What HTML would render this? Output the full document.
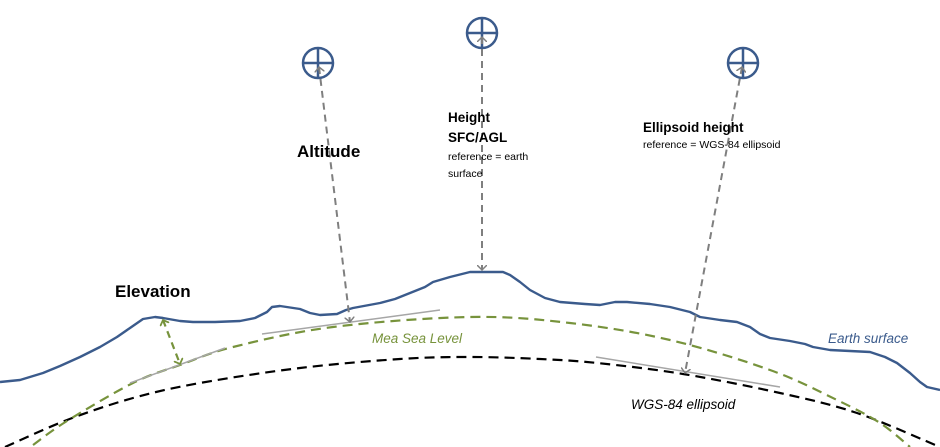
<!DOCTYPE html>
<html><head><meta charset="utf-8"><style>
html,body{margin:0;padding:0;background:#fff;}
svg{display:block;font-family:"Liberation Sans",sans-serif;}
</style></head><body>
<svg width="940" height="447" viewBox="0 0 940 447">
<defs>
<marker id="ag" markerWidth="10" markerHeight="10" refX="5" refY="5" orient="auto-start-reverse" markerUnits="userSpaceOnUse"><path d="M0,0 L5,5 L0,10" fill="none" stroke="#7f7f7f" stroke-width="1.5"/></marker>
<marker id="agr" markerWidth="10" markerHeight="10" refX="5" refY="5" orient="auto-start-reverse" markerUnits="userSpaceOnUse"><path d="M0,0 L5,5 L0,10" fill="none" stroke="#77933c" stroke-width="1.8"/></marker>
</defs>
<path id="ell" d="" fill="none" stroke="#000" stroke-width="2.2" stroke-dasharray="10,6"/>
<path id="msl" d="" fill="none" stroke="#77933c" stroke-width="2.2" stroke-dasharray="10,6"/>
<path d="M0,382 L20,380 L43,373 L60,366 L80,357 L100,347 L117,337 L130,328 L143,319 L155,317 L163,318 L180,321 L193,322 L215,322 L240,321 L255,318 L267,312 L272,307 L280,306 L300,309 L310,313 L320,315 L337,314 L346,310 L353,308 L380,303 L395,299 L410,293 L425,287 L433,282 L450,277 L470,272 L490,272 L503,272 L510,275 L520,282 L530,290 L545,298 L560,302 L585,304 L600,305 L615,302 L627,302 L650,304 L670,307 L690,312 L700,317 L720,320 L737,322 L750,327 L760,334 L770,338 L790,341 L805,344 L813,347 L830,350 L850,351 L870,352 L885,357 L897,363 L910,373 L920,382 L927,387 L940,390" fill="none" stroke="#3b5b8c" stroke-width="2.4" stroke-linejoin="round"/>
<line x1="130" y1="383" x2="225" y2="348" stroke="#a6a6a6" stroke-width="1.5"/>
<line x1="262" y1="334" x2="440" y2="310" stroke="#a6a6a6" stroke-width="1.5"/>
<line x1="596" y1="357" x2="780" y2="387" stroke="#a6a6a6" stroke-width="1.5"/>
<g fill="none" stroke="#3b5b8c" stroke-width="2.5"><circle cx="318" cy="63" r="15"/><line x1="303" y1="63" x2="333" y2="63"/><line x1="318" y1="48" x2="318" y2="78"/></g>
<g fill="none" stroke="#3b5b8c" stroke-width="2.5"><circle cx="482" cy="33" r="15"/><line x1="467" y1="33" x2="497" y2="33"/><line x1="482" y1="18" x2="482" y2="48"/></g>
<g fill="none" stroke="#3b5b8c" stroke-width="2.5"><circle cx="743" cy="63" r="15"/><line x1="728" y1="63" x2="758" y2="63"/><line x1="743" y1="48" x2="743" y2="78"/></g>
<line x1="319" y1="67" x2="350" y2="322" stroke="#7f7f7f" stroke-width="2" stroke-dasharray="7,5" marker-start="url(#ag)" marker-end="url(#ag)"/>
<line x1="482" y1="37" x2="482" y2="270" stroke="#7f7f7f" stroke-width="2" stroke-dasharray="7,5" marker-start="url(#ag)" marker-end="url(#ag)"/>
<line x1="742" y1="67" x2="685" y2="373" stroke="#7f7f7f" stroke-width="2" stroke-dasharray="7,5" marker-start="url(#ag)" marker-end="url(#ag)"/>
<line x1="163" y1="320" x2="180" y2="364" stroke="#77933c" stroke-width="2.2" stroke-dasharray="7,5" marker-start="url(#agr)" marker-end="url(#agr)"/>
<text x="297" y="157" font-size="17" font-weight="bold">Altitude</text>
<text x="115" y="297" font-size="17" font-weight="bold">Elevation</text>
<text x="448" y="122" font-size="13.5" font-weight="bold">Height</text>
<text x="448" y="142" font-size="13.5" font-weight="bold">SFC/AGL</text>
<text x="448" y="160" font-size="10.5">reference = earth</text>
<text x="448" y="177" font-size="10.5">surface</text>
<text x="643" y="132" font-size="13.5" font-weight="bold">Ellipsoid height</text>
<text x="643" y="148" font-size="10.5">reference = WGS-84 ellipsoid</text>
<text x="372" y="343" font-size="13.5" font-style="italic" fill="#77933c">Mea Sea Level</text>
<text x="828" y="343" font-size="13.5" font-style="italic" fill="#3b5b8c">Earth surface</text>
<text x="631" y="409" font-size="13.5" font-style="italic" fill="#000">WGS-84 ellipsoid</text>
</svg>
<script>
const ellPts=[[5,447],[67,420],[133,398],[200,383],[300,368],[400,359],[470,357],[540,359],[597,363],[683,374],[780,393],[857,413],[940,447]];
const mslPts=[[33,445],[67,421],[133,383],[180,365],[233,347],[333,327],[470,317],[570,323],[670,340],[770,370],[837,400],[880,423],[910,447]];
function smooth(p){
  let d='M'+p[0][0]+','+p[0][1];
  for(let i=0;i<p.length-1;i++){
    const p0=p[Math.max(0,i-1)],p1=p[i],p2=p[i+1],p3=p[Math.min(p.length-1,i+2)];
    const c1=[p1[0]+(p2[0]-p0[0])/6,p1[1]+(p2[1]-p0[1])/6];
    const c2=[p2[0]-(p3[0]-p1[0])/6,p2[1]-(p3[1]-p1[1])/6];
    d+=' C'+c1[0]+','+c1[1]+' '+c2[0]+','+c2[1]+' '+p2[0]+','+p2[1];
  }
  return d;
}
document.getElementById('ell').setAttribute('d',smooth(ellPts));
document.getElementById('msl').setAttribute('d',smooth(mslPts));
</script>
</body></html>
